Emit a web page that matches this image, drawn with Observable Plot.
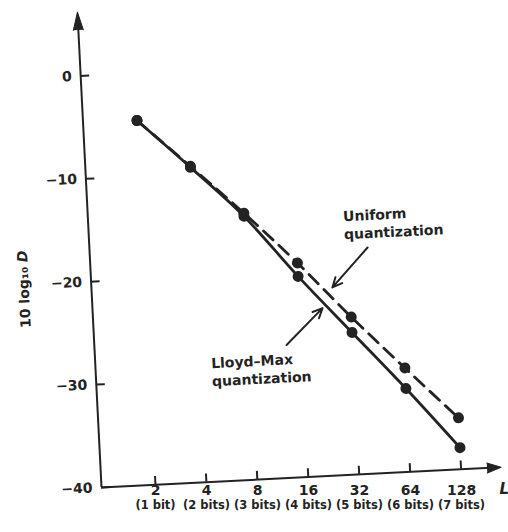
<!DOCTYPE html>
<html>
<head>
<meta charset="utf-8">
<script src="https://cdn.jsdelivr.net/npm/d3@7"></script>
<script src="https://cdn.jsdelivr.net/npm/@observablehq/plot@0.6"></script>
<style>
  html, body { margin: 0; padding: 0; background: #fff; overflow: hidden; }
  #chart svg { display: block; }
</style>
</head>
<body>
<div id="chart"></div>
<script>
// Number of quantizer levels and bits
const levels = [2, 4, 8, 16, 32, 64, 128];
const bitLabels = ["(1 bit)", "(2 bits)", "(3 bits)", "(4 bits)", "(5 bits)", "(6 bits)", "(7 bits)"];
// 10 log10 D (dB)
const lloydMax = [-4.6, -9.4, -14.4, -20.5, -26.2, -31.9, -37.9];
const uniform  = [-4.6, -9.3, -14.1, -19.2, -24.7, -29.9, -35.0];
const yTicks = [0, -10, -20, -30, -40];

const ink = "#232323";
const font = "DejaVu Sans";
const xMin = 2 ** -0.059, xMax = 2 ** 7.784;
const yMin = -40, yMax = 6.21;

const rows = levels.map((n, i) => ({n, lm: lloydMax[i], u: uniform[i], bits: bitLabels[i]}));

const plot = Plot.plot({
  width: 508,
  height: 532,
  marginLeft: 101,
  marginRight: 7,
  marginTop: 11,
  marginBottom: 45,
  style: {fontFamily: font, background: "#fff", color: ink, overflow: "visible"},
  x: {type: "log", base: 2, domain: [xMin, xMax], axis: null},
  y: {domain: [yMin, yMax], axis: null},
  marks: [
    // axes
    Plot.ruleX([xMin], {y1: yMin, y2: yMax - 1.2, stroke: ink, strokeWidth: 2}),
    Plot.ruleY([yMin], {x1: xMin, x2: xMax / 2 ** 0.2, stroke: ink, strokeWidth: 2}),
    Plot.vector([0], {x: xMin, y: yMax, length: 18, r: 5, rotate: 0, anchor: "end", shape: "spike", fill: ink, stroke: ink, strokeWidth: 1}),
    Plot.vector([0], {x: xMax, y: yMin, length: 14, r: 5, rotate: 90, anchor: "end", shape: "spike", fill: ink, stroke: ink, strokeWidth: 1}),
    // tick marks (pointing into the plot)
    Plot.ruleY(yTicks, {y: d => d, x1: xMin, x2: xMin * 2 ** (9 / 51), stroke: ink, strokeWidth: 2}),
    Plot.ruleX(levels, {x: d => d, y1: yMin, y2: yMin + 0.8, stroke: ink, strokeWidth: 2}),
    // y tick labels
    Plot.text(yTicks, {x: xMin, y: d => d, text: d => d === 0 ? "0" : "\u2212" + Math.abs(d), textAnchor: "end", dx: -9, fontSize: 14, fontWeight: "bold", fill: ink}),
    // y axis label
    Plot.text([0], {frameAnchor: "left", y: -20.4, dx: -67, rotate: -90, textAnchor: "middle", text: () => "10 log\u2081\u2080 D", fontSize: 14, fontWeight: "bold", fill: ink, ariaLabel: () => "ylabel"}),
    // curves
    Plot.line(rows, {x: "n", y: "u", stroke: ink, strokeWidth: 2.8, strokeDasharray: "13,8", curve: "monotone-x"}),
    Plot.line(rows, {x: "n", y: "lm", stroke: ink, strokeWidth: 2.8, curve: "monotone-x"}),
    Plot.dot(rows, {x: "n", y: "u", r: 5.5, fill: ink}),
    Plot.dot(rows, {x: "n", y: "lm", r: 5.5, fill: ink}),
    // annotations
    Plot.text(["Uniform\nquantization"], {x: 30.7, y: -15.7, text: d => d, textAnchor: "start", lineHeight: 1.29, fontSize: 14, fontWeight: "bold", fill: ink}),
    Plot.text(["Lloyd\u2013Max\nquantization"], {x: 4.63, y: -29.3, text: d => d, textAnchor: "start", lineHeight: 1.29, fontSize: 14, fontWeight: "bold", fill: ink}),
    Plot.arrow([0], {x1: 41.9, y1: -18.04, x2: 25.3, y2: -21.74, stroke: ink, strokeWidth: 2, headLength: 8, headAngle: 50}),
    Plot.arrow([0], {x1: 13.05, y1: -27.1, x2: 21.8, y2: -23.7, stroke: ink, strokeWidth: 2, headLength: 8, headAngle: 50}),
    // x tick labels (not tilted in the scan)
    Plot.text(rows, {x: "n", frameAnchor: "bottom", dy: 3, lineAnchor: "middle", text: d => String(d.n), fontSize: 14, fontWeight: "bold", fill: ink, ariaLabel: () => "xlabels"}),
    Plot.text(rows, {x: "n", frameAnchor: "bottom", dy: 18, lineAnchor: "middle", text: "bits", fontSize: 11.5, fontWeight: "bold", fill: ink, ariaLabel: () => "xbits"}),
    Plot.text(["L"], {frameAnchor: "bottom-right", dx: -2, dy: 2, lineAnchor: "middle", textAnchor: "start", text: d => d, fontSize: 15, fontWeight: "bold", fontStyle: "italic", fill: ink, ariaLabel: () => "xname"})
  ]
});

const svgNS = "http://www.w3.org/2000/svg";

// italic D in the y label
const yl = plot.querySelector('text[aria-label="ylabel"]');
if (yl) {
  yl.textContent = "10 log\u2081\u2080 ";
  const ts = document.createElementNS(svgNS, "tspan");
  ts.setAttribute("font-style", "italic");
  ts.textContent = "D";
  yl.appendChild(ts);
}

// find the top-level group of a mark from one of its elements
function topGroup(sel) {
  let el = plot.querySelector(sel);
  while (el && el.parentNode !== plot) el = el.parentNode;
  return el;
}
const keep = new Set(['[aria-label="xlabels"]', '[aria-label="xbits"]', '[aria-label="xname"]'].map(topGroup).filter(Boolean));

// the scanned figure is tilted slightly: rotate everything but the x labels row
const grp = document.createElementNS(svgNS, "g");
grp.setAttribute("transform", "rotate(-2.9 101 487)");
Array.from(plot.children).forEach(el => {
  if (el.tagName.toLowerCase() === "style") return;
  if (keep.has(el)) return;
  grp.appendChild(el);
});
const firstKeep = Array.from(plot.children).find(el => keep.has(el)) || null;
plot.insertBefore(grp, firstKeep);

document.getElementById("chart").appendChild(plot);
</script>
</body>
</html>
